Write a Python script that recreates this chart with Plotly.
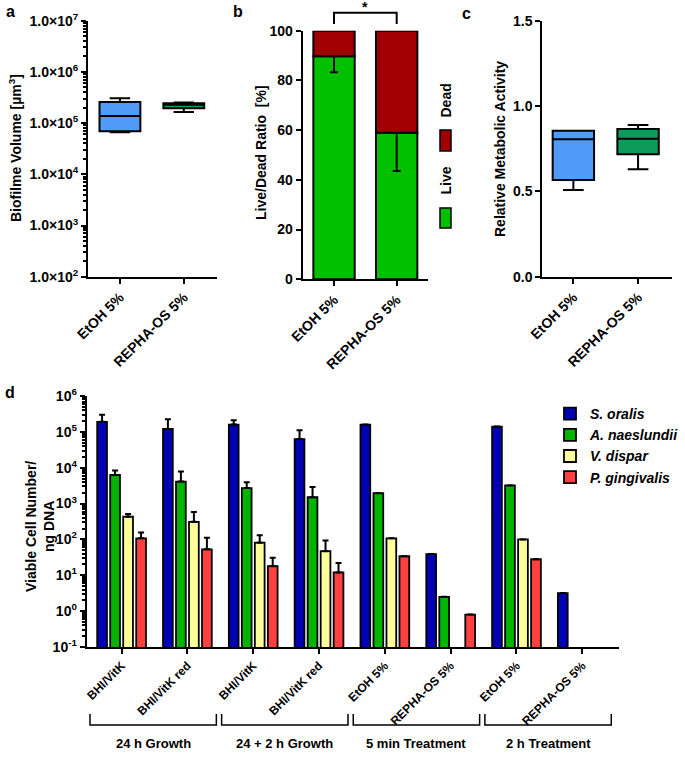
import plotly.graph_objects as go

W, H = 685, 764


def px(x):
    return x / W


def py(y):
    return 1 - y / H


FONT = "Arial"

# ---- data ----
treatments = ["EtOH 5%", "REPHA-OS 5%"]

# a: biofilm volume (box stats)
vol_lower = [6.6e4, 1.65e5]
vol_q1 = [6.9e4, 1.95e5]
vol_median = [1.38e5, 2.28e5]
vol_q3 = [2.58e5, 2.44e5]
vol_upper = [3.05e5, 2.52e5]
vol_tickvals = [1e2, 1e3, 1e4, 1e5, 1e6, 1e7]
vol_ticktext = ["1.0×10<sup>2</sup>", "1.0×10<sup>3</sup>", "1.0×10<sup>4</sup>",
                "1.0×10<sup>5</sup>", "1.0×10<sup>6</sup>", "1.0×10<sup>7</sup>"]

# b: live/dead ratio
live = [89.7, 59.0]
live_err = [6.4, 15.4]
dead = [10.3, 41.0]

# c: relative metabolic activity (box stats)
act_lower = [0.508, 0.629]
act_q1 = [0.566, 0.717]
act_median = [0.805, 0.808]
act_q3 = [0.855, 0.865]
act_upper = [0.855, 0.889]

# d: viable cell number / ng DNA
conditions = ["BHI/VitK", "BHI/VitK red", "BHI/VitK", "BHI/VitK red",
              "EtOH 5%", "REPHA-OS 5%", "EtOH 5%", "REPHA-OS 5%"]
phases = ["24 h Growth", "24 + 2 h Growth", "5 min Treatment", "2 h Treatment"]
species = ["S. oralis", "A. naeslundii", "V. dispar", "P. gingivalis"]
s_oralis = [1.9e5, 1.2e5, 1.6e5, 6.3e4, 1.6e5, 39, 1.4e5, 3.2]
s_oralis_hi = [3.0e5, 2.25e5, 2.1e5, 1.1e5, None, None, None, None]
a_naeslundii = [6.3e3, 4.1e3, 2.7e3, 1.5e3, 1.95e3, 2.5, 3.2e3, None]
a_naeslundii_hi = [8.3e3, 7.8e3, 3.95e3, 2.9e3, None, None, None, None]
v_dispar = [430, 310, 81, 47, 107, None, 100, None]
v_dispar_hi = [510, 585, 130, 94, None, None, None, None]
p_gingivalis = [107, 53, 18, 12, 34, 0.8, 28, None]
p_gingivalis_hi = [155, 112, 31, 22, None, None, None, None]
cell_tickvals = [1e-1, 1e0, 1e1, 1e2, 1e3, 1e4, 1e5, 1e6]
cell_ticktext = ["10<sup>-1</sup>", "10<sup>0</sup>", "10<sup>1</sup>", "10<sup>2</sup>",
                 "10<sup>3</sup>", "10<sup>4</sup>", "10<sup>5</sup>", "10<sup>6</sup>"]

BLUE_BOX = "#4f9bf7"
GREEN_BOX = "#0f9a5c"
LIVE = "#00c000"
DEAD = "#a00000"
sp_colors = ["#0000b4", "#00b400", "#ffff99", "#ff4040"]


def minor_log(lo, hi):
    return [m * 10 ** e for e in range(lo, hi) for m in range(2, 10)]


fig = go.Figure()

# a
for i, col in enumerate([BLUE_BOX, GREEN_BOX]):
    fig.add_trace(go.Box(
        x=[treatments[i]], lowerfence=[vol_lower[i]], q1=[vol_q1[i]],
        median=[vol_median[i]], q3=[vol_q3[i]], upperfence=[vol_upper[i]],
        fillcolor=col, line=dict(color="black", width=2), width=0.64,
        whiskerwidth=0.5, xaxis="x", yaxis="y", showlegend=False,
    ))

# b
fig.add_trace(go.Bar(
    x=treatments, y=live, xaxis="x2", yaxis="y2", width=0.66, offset=-0.33,
    marker=dict(color=LIVE, line=dict(color="black", width=2)),
    error_y=dict(type="data", array=live_err, color="black", thickness=2, width=4),
    showlegend=False,
))
fig.add_trace(go.Bar(
    x=treatments, y=dead, base=live, xaxis="x2", yaxis="y2", width=0.66, offset=-0.33,
    marker=dict(color=DEAD, line=dict(color="black", width=2)), showlegend=False,
))

# c
for i, col in enumerate([BLUE_BOX, GREEN_BOX]):
    fig.add_trace(go.Box(
        x=[treatments[i]], lowerfence=[act_lower[i]], q1=[act_q1[i]],
        median=[act_median[i]], q3=[act_q3[i]], upperfence=[act_upper[i]],
        fillcolor=col, line=dict(color="black", width=2), width=0.64,
        whiskerwidth=0.5, xaxis="x3", yaxis="y3", showlegend=False,
    ))

# d
positions = list(range(len(conditions)))
series = [(s_oralis, s_oralis_hi), (a_naeslundii, a_naeslundii_hi),
          (v_dispar, v_dispar_hi), (p_gingivalis, p_gingivalis_hi)]
for name, col, (vals, hi) in zip(species, sp_colors, series):
    up = [h - v if h is not None else None for v, h in zip(vals, hi)]
    fig.add_trace(go.Bar(
        x=positions, y=vals, name=f"<b><i>{name}</i></b>", xaxis="x4", yaxis="y4",
        marker=dict(color=col, line=dict(color="black", width=1.8)),
        error_y=dict(type="data", symmetric=False, array=up,
                     arrayminus=[0] * len(vals), color="black", thickness=2, width=3),
    ))

axis_style = dict(showline=True, linecolor="black", linewidth=2, ticks="outside",
                  ticklen=5, tickwidth=2, tickcolor="black", showgrid=False,
                  zeroline=False, automargin=False,
                  tickfont=dict(family=FONT, size=14, color="black", weight="bold"))
xcat_style = dict(axis_style, tickangle=-45,
                  tickfont=dict(family=FONT, size=14, color="black", weight="bold"))
minor_style = dict(ticks="outside", ticklen=3, tickwidth=1.5, tickcolor="black")

fig.update_layout(
    width=W, height=H, margin=dict(l=0, r=0, t=0, b=0, autoexpand=False),
    paper_bgcolor="white", plot_bgcolor="white",
    font=dict(family=FONT, color="black"),
    barmode="group", bargap=0.21, bargroupgap=0.25,
    xaxis=dict(xcat_style, domain=[px(88), px(217)], anchor="y", range=[-0.5, 1.52]),
    yaxis=dict(axis_style, domain=[py(276.7), py(20.7)], anchor="x", type="log",
               range=[2, 7], tickvals=vol_tickvals, ticktext=vol_ticktext,
               minor=dict(minor_style, tickvals=minor_log(2, 7))),
    xaxis2=dict(xcat_style, domain=[px(302.7), px(428)], anchor="y2", range=[-0.5, 1.5]),
    yaxis2=dict(axis_style, domain=[py(279.3), py(30.7)], anchor="x2",
                range=[0, 100], tickvals=[0, 20, 40, 60, 80, 100]),
    xaxis3=dict(xcat_style, domain=[px(542.3), px(671.7)], anchor="y3", range=[-0.48, 1.52]),
    yaxis3=dict(axis_style, domain=[py(276.7), py(20.7)], anchor="x3",
                range=[0, 1.5], tickvals=[0, 0.5, 1.0, 1.5], tickformat=".1f"),
    xaxis4=dict(xcat_style, domain=[px(86.7), px(618.5)], anchor="y4", range=[-0.53, 7.55],
                tickvals=positions, ticktext=conditions,
                tickfont=dict(family=FONT, size=12, color="black", weight="bold")),
    yaxis4=dict(axis_style, domain=[py(647), py(396)], anchor="x4", type="log",
                range=[-1, 6], tickvals=cell_tickvals, ticktext=cell_ticktext,
                minor=dict(minor_style, tickvals=minor_log(-1, 6))),
    legend=dict(x=px(685), y=py(398), xanchor="right", yanchor="top",
                font=dict(family=FONT, size=14, color="black"),
                bgcolor="rgba(0,0,0,0)", itemwidth=30, tracegroupgap=0),
)

ann = []
centered = dict(xref="paper", yref="paper", showarrow=False, xanchor="center", yanchor="middle")
title_font = dict(family=FONT, size=14, color="black", weight="bold")
for letter, x, y in [("a", 10, 12), ("b", 238, 12), ("c", 466, 13), ("d", 10, 392)]:
    ann.append(dict(centered, text=letter, x=px(x), y=py(y),
                    font=dict(family=FONT, size=16, color="black", weight="bold")))
for text, x, y in [("Biofilme Volume [µm<sup>3</sup>]", 15, 148),
                   ("Live/Dead Ratio  [%]", 261, 153),
                   ("Relative Metabolic Activity", 500, 149),
                   ("Viable Cell Number/<br>ng DNA", 40, 527)]:
    ann.append(dict(centered, text=text, x=px(x), y=py(y), textangle=-90, font=title_font))

# b: legend and significance bracket
shapes = []
for (y0, y1, col, label, ly) in [(130, 151, DEAD, "Dead", 100), (208, 228, LIVE, "Live", 180)]:
    shapes.append(dict(type="rect", xref="paper", yref="paper", x0=px(440), x1=px(451),
                       y0=py(y1), y1=py(y0), fillcolor=col, line=dict(color="black", width=1.5)))
    ann.append(dict(centered, text=label, x=px(445.5), y=py(ly), textangle=-90,
                    font=dict(family=FONT, size=14, color="black", weight="bold")))
shapes.append(dict(type="path", xref="x2", yref="paper",
                   path=f"M 0,{py(24)} L 0,{py(12.7)} L 1,{py(12.7)} L 1,{py(24)}",
                   line=dict(color="black", width=2)))
ann.append(dict(centered, text="*", x=0.5, y=py(7), xref="x2",
                font=dict(family=FONT, size=14, color="black", weight="bold")))

# d: phase brackets
for k, label in enumerate(phases):
    x0, x1 = 2 * k - 0.48, 2 * k + 1.44
    shapes.append(dict(type="path", xref="x4", yref="paper",
                       path=f"M {x0},{py(714)} L {x0},{py(725)} L {x1},{py(725)} L {x1},{py(714)}",
                       line=dict(color="black", width=1.5)))
    ann.append(dict(centered, text=label, x=(x0 + x1) / 2, y=py(743), xref="x4",
                    font=dict(family=FONT, size=13, color="black", weight="bold")))

fig.update_layout(annotations=ann, shapes=shapes)

fig.write_html("out.html", config={"displayModeBar": False},
               post_script="document.body.style.margin='0px';")
